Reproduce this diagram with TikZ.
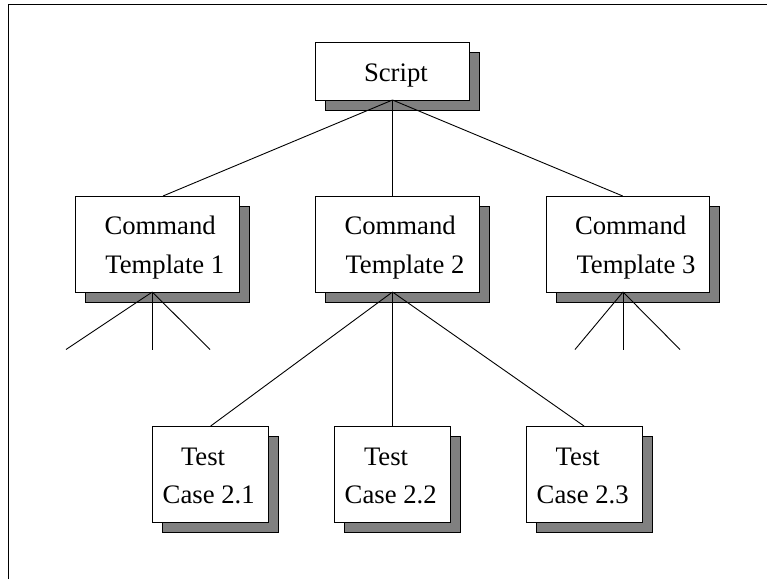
\documentclass[tikz,border=0pt]{standalone}
\usepackage{fontspec}
\setmainfont{Liberation Serif}
\tikzset{
  x=1pt,y=-1pt,
  boxbase/.style={draw=black,line width=0.9pt,inner sep=0pt,outer sep=0pt,anchor=north west},
  shadowbox/.style={boxbase,fill=shadegray},
  frontbox/.style={boxbase,fill=white},
  boxsmall/.style={minimum width=115.5pt,minimum height=96pt},
  boxwide/.style={minimum width=163.5pt,minimum height=96pt},
  boxtop/.style={minimum width=154pt,minimum height=57.5pt},
  label/.style={anchor=base west,inner sep=0pt,outer sep=0pt,font=\fontsize{26.7}{30}\selectfont},
  link/.style={draw=black,line width=0.9pt},
  frameline/.style={draw=black,line width=1pt},
}
\definecolor{shadegray}{HTML}{808080}
\begin{document}
\begin{tikzpicture}
\useasboundingbox (0,0) rectangle (767,579);
\fill[white] (0,0) rectangle (767,579);
% frame
\coordinate (fbl) at (8,579);
\coordinate (ftl) at (8,4);
\coordinate (ftr) at (767,4);
\draw[frameline] (fbl) -- (ftl) -- (ftr);
% shadows
\node[shadowbox,boxtop] (sScript) at (325.5,52.5) {};
\node[shadowbox,boxwide] (sA) at (85.5,206) {};
\node[shadowbox,boxwide] (sB) at (325.5,206) {};
\node[shadowbox,boxwide] (sC) at (556,206) {};
\node[shadowbox,boxsmall] (sT) at (162.5,436) {};
\node[shadowbox,boxsmall] (sU) at (344.8,436) {};
\node[shadowbox,boxsmall] (sV) at (536.7,436) {};
% boxes
\node[frontbox,boxtop] (Script) at (315.5,42.5) {};
\node[frontbox,boxwide] (A) at (75.5,196) {};
\node[frontbox,boxwide] (B) at (315.5,196) {};
\node[frontbox,boxwide] (C) at (546,196) {};
\node[frontbox,boxsmall] (T) at (152.5,426) {};
\node[frontbox,boxsmall] (U) at (334.8,426) {};
\node[frontbox,boxsmall] (V) at (526.7,426) {};
% labels
\node[label] (lScript) at (364,81) {Script};
\node[label] (lA1) at (104.5,234) {Command};
\node[label] (lA2) at (105.3,273) {Template 1};
\node[label] (lB1) at (344.5,234) {Command};
\node[label] (lB2) at (345.5,273) {Template 2};
\node[label] (lC1) at (575,234) {Command};
\node[label] (lC2) at (576.5,273) {Template 3};
\node[label] (lT1) at (181,465) {Test};
\node[label] (lT2) at (162.7,503) {Case 2.1};
\node[label] (lU1) at (364,465) {Test};
\node[label] (lU2) at (344.7,503) {Case 2.2};
\node[label] (lV1) at (555.7,465) {Test};
\node[label] (lV2) at (536.7,503) {Case 2.3};
% connector anchors
\coordinate (sb) at (392.5,100);
\coordinate (at) at (163,196);
\coordinate (bt) at (392.5,196);
\coordinate (ct) at (622.7,196);
\coordinate (ab) at (152.3,292);
\coordinate (bb) at (392.5,292);
\coordinate (cb) at (623,292);
\coordinate (tt) at (210.7,426);
\coordinate (ut) at (392.5,426);
\coordinate (vt) at (584,426);
\coordinate (a1) at (66,349.5);
\coordinate (a2) at (152.3,349.5);
\coordinate (a3) at (210,349.5);
\coordinate (c1) at (575,349.5);
\coordinate (c2) at (623,349.5);
\coordinate (c3) at (680,349.5);
% connectors
\draw[link] (sb) -- (at);
\draw[link] (sb) -- (bt);
\draw[link] (sb) -- (ct);
\draw[link] (ab) -- (a1);
\draw[link] (ab) -- (a2);
\draw[link] (ab) -- (a3);
\draw[link] (cb) -- (c1);
\draw[link] (cb) -- (c2);
\draw[link] (cb) -- (c3);
\draw[link] (bb) -- (tt);
\draw[link] (bb) -- (ut);
\draw[link] (bb) -- (vt);
\end{tikzpicture}
\end{document}
